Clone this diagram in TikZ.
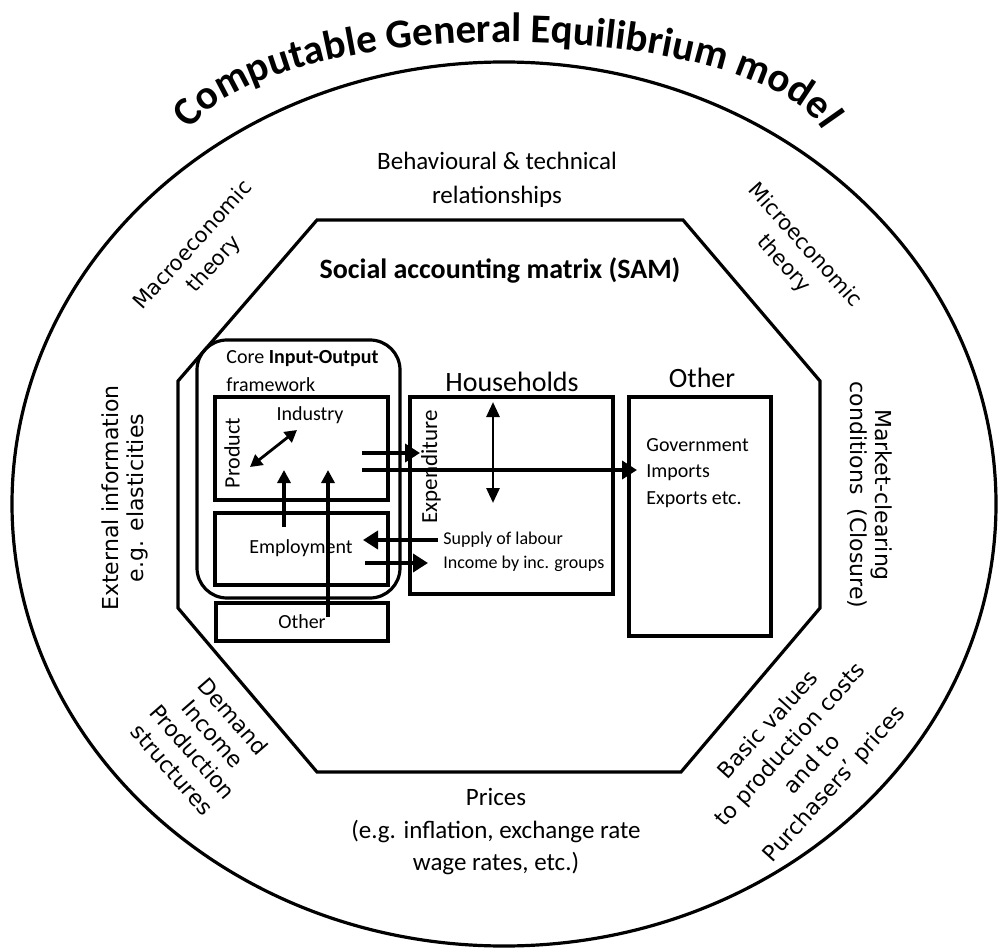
\documentclass[tikz,border=0pt]{standalone}
\usepackage{fontspec}
\setmainfont{Carlito}
\newfontfamily\dejavu{DejaVu Sans}
\usetikzlibrary{arrows.meta,decorations.text}
\newcommand{\fs}[2]{\fontsize{#1}{#2}\selectfont}
\newcommand{\titlefont}{\fontsize{20.5}{24}\selectfont\bfseries}
\begin{document}
\begin{tikzpicture}[x=0.5pt,y=0.5pt,
  outline/.style={draw, line width=1.6pt, line join=miter},
  lbl/.style={inner sep=0pt, align=center},
  arrA/.style={line width=2pt, -{Triangle[length=7.5pt,width=9pt]}},
  arrU/.style={line width=1.7pt, -{Triangle[length=6.5pt,width=6.5pt]}},
  dblA/.style={line width=1.4pt, {Triangle[length=6pt,width=6.5pt]}-{Triangle[length=6pt,width=6.5pt]}},
  dblB/.style={line width=1.4pt, {Triangle[length=7.5pt,width=6.5pt]}-{Triangle[length=7.5pt,width=6.5pt]}}
]
\useasboundingbox (0,0) rectangle (1000,949);
\fill[white] (0,0) rectangle (1000,949);

% title along arc
\path[decorate, decoration={text along path, text={|\titlefont|Computable General Equilibrium model}, text align=center}]
  (185,797) arc[start angle=180, end angle=0, x radius=322, y radius=110];

% outer ellipse and octagon
\draw[outline] (504,445) ellipse [x radius=492, y radius=442];
\draw[outline] (317,729) -- (683,729) -- (820,568) -- (820,341) -- (681,177) -- (317,177) -- (178,341) -- (178,568) -- cycle;

% inner boxes
\draw[outline, rounded corners=15pt] (197,351) rectangle (400,609);
\draw[outline] (215,449) rectangle (388,552);
\draw[outline] (215,364) rectangle (388,436);
\draw[outline] (216,308) rectangle (388,346);
\draw[outline] (410,355) rectangle (613,552);
\draw[outline] (629,313) rectangle (771,552);

% texts inside
\node[lbl, anchor=west, align=left, font=\fs{10}{14}] (core) at (226,578) {Core \textbf{Input-Output}\\framework};
\node[lbl, font=\fs{10}{12}] (ind) at (310,534) {Industry};
\node[lbl, rotate=90, font=\fs{11}{13}] (prod) at (232,496) {Product};
\node[lbl, font=\fs{10}{12}] (emp) at (301,401) {Employment};
\node[lbl, font=\fs{10}{12}] (oth1) at (302,327) {Other};
\node[lbl, font=\fs{14}{16}] (hh) at (512,567) {Households};
\node[lbl, font=\fs{14}{16}] (oth2) at (702,571) {Other};
\node[lbl, anchor=west, align=left, font=\fs{10}{13.3}] (gov) at (646,476) {Government\\Imports\\Exports etc.};
\node[lbl, rotate=90, font=\fs{11.5}{13}] (exp) at (431,482) {Expenditure};
\node[lbl, anchor=west, align=left, font=\fs{9}{12}] (sup) at (443,397) {Supply of labour\\Income by inc. groups};
\node[lbl, font=\fs{14}{16}\bfseries] (sam) at (500,679) {Social accounting matrix (SAM)};

% texts in the ring
\node[lbl, font=\fs{12.5}{17}] (beh) at (497,769) {Behavioural \& technical\\relationships};
\node[lbl, rotate=48, font=\dejavu\fs{10.5}{14}] (mac) at (204,694) {Macroeconomic\\theory};
\node[lbl, rotate=-48, font=\dejavu\fs{10.5}{14}] (mic) at (794,694) {Microeconomic\\theory};
\node[lbl, rotate=90, font=\dejavu\fs{11}{12.5}] (ext) at (125,451) {External information\\e.g. elasticities};
\node[lbl, rotate=-90, font=\dejavu\fs{11}{12.5}] (mkt) at (870,454) {Market-clearing\\conditions\ \ (Closure)};
\node[lbl, rotate=-49, font=\dejavu\fs{11}{13.5}] (dem) at (203,206) {Demand\\Income\\Production\\structures};
\node[lbl, rotate=48, font=\dejavu\fs{11}{14.8}] (bas) at (802,194) {Basic values\\to production costs\\and to\\Purchasers’ prices};
\node[lbl, font=\fs{12.5}{16.25}] (pri) at (496,117) {Prices\\(e.g. inflation, exchange rate\\wage rates, etc.)};

% arrow end points
\coordinate (pa) at (250,482); \coordinate (pb) at (297,519);
\coordinate (u1s) at (284,422); \coordinate (u1e) at (284,479);
\coordinate (u2s) at (328,332); \coordinate (u2e) at (328,479);
\coordinate (es) at (362,496); \coordinate (ee) at (420,496);
\coordinate (ls) at (362,479); \coordinate (le) at (637,479);
\coordinate (ha) at (493,547); \coordinate (hb) at (493,446);
\coordinate (lbs) at (438,409); \coordinate (lbe) at (363,409);
\coordinate (ins) at (365,386); \coordinate (ine) at (428,386);

\draw[dblA] (pa) -- (pb);
\draw[arrU] (u1s) -- (u1e);
\draw[arrU] (u2s) -- (u2e);
\draw[arrA] (es) -- (ee);
\draw[arrA] (ls) -- (le);
\draw[dblB] (ha) -- (hb);
\draw[arrA] (lbs) -- (lbe);
\draw[arrA] (ins) -- (ine);
\end{tikzpicture}
\end{document}
